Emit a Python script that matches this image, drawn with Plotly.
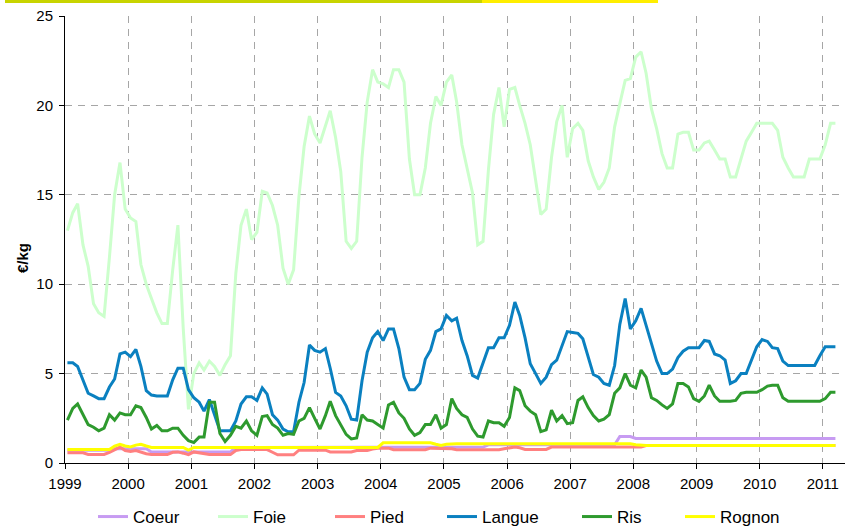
import plotly.graph_objects as go
import pandas as pd

# Monthly categories, Jan 1999 .. Mar 2011
months = [d.strftime("%Y-%m-15") for d in pd.date_range("1999-01-01", "2011-03-01", freq="MS")]

coeur = [
    0.72,0.72,0.72,0.72,0.72,0.72,0.72,0.72,0.72,0.80,0.82,0.80,
    0.80,0.80,0.80,0.80,0.62,0.62,0.62,0.62,0.62,0.62,0.62,0.62,
    0.62,0.62,0.62,0.62,0.62,0.62,0.62,0.62,0.86,0.86,0.86,0.86,
    0.86,0.86,0.86,0.86,0.86,0.86,0.86,0.86,0.86,0.86,0.86,0.86,
    0.86,0.86,0.86,0.86,0.86,0.86,0.86,0.86,0.86,0.86,0.86,0.86,
    0.89,0.89,0.89,0.89,0.89,0.89,0.89,0.89,0.89,0.89,0.89,0.89,
    0.89,0.89,0.89,0.89,0.89,0.89,0.89,0.89,1.02,1.02,1.02,1.02,
    1.02,1.02,1.02,1.02,1.02,1.02,1.02,1.02,1.02,1.02,1.02,1.02,
    1.02,1.02,1.02,1.02,1.02,1.02,1.02,1.02,1.02,1.48,1.48,1.48,
    1.37,1.37,1.37,1.37,1.37,1.37,1.37,1.37,1.37,1.37,1.37,1.37,
    1.37,1.37,1.37,1.37,1.37,1.37,1.37,1.37,1.37,1.37,1.37,1.37,
    1.37,1.37,1.37,1.37,1.37,1.37,1.37,1.37,1.37,1.37,1.37,1.37,
    1.37,1.37,1.37,
]

foie = [
    13.0,14.0,14.5,12.2,11.0,8.9,8.4,8.2,11.5,15.0,16.8,14.2,
    13.7,13.5,11.1,10.0,9.2,8.4,7.8,7.8,10.8,13.3,7.5,3.0,
    5.0,5.6,5.2,5.7,5.4,4.9,5.5,6.0,10.6,13.3,14.2,12.5,
    12.9,15.2,15.1,14.4,13.3,10.9,10.0,10.8,14.9,17.7,19.4,18.4,
    17.9,18.9,19.7,18.2,16.3,12.4,12.0,12.4,17.1,20.2,22.0,21.3,
    21.2,21.0,22.0,22.0,21.3,17.0,15.0,15.0,16.5,19.0,20.5,20.0,
    21.3,21.7,20.2,17.8,16.5,15.1,12.2,12.4,16.4,19.5,21.0,18.8,
    20.9,21.0,20.0,19.0,17.8,15.8,13.9,14.2,17.1,19.1,20.0,17.1,
    18.7,19.0,18.6,16.9,16.0,15.3,15.7,16.5,18.8,20.1,21.4,21.5,
    22.7,23.0,21.8,19.8,18.7,17.3,16.5,16.5,18.4,18.5,18.5,17.5,
    17.5,17.9,18.0,17.5,17.0,17.0,16.0,16.0,17.0,18.0,18.5,19.0,
    19.0,19.0,19.0,18.6,17.1,16.5,16.0,16.0,16.0,17.0,17.0,17.0,
    17.8,19.0,19.0,
]

pied = [
    0.57,0.57,0.57,0.57,0.48,0.48,0.48,0.48,0.60,0.75,0.89,0.70,
    0.64,0.70,0.60,0.52,0.47,0.47,0.47,0.47,0.60,0.62,0.55,0.47,
    0.62,0.57,0.53,0.47,0.47,0.47,0.47,0.47,0.70,0.75,0.75,0.75,
    0.75,0.75,0.75,0.60,0.46,0.46,0.46,0.46,0.72,0.72,0.72,0.72,
    0.72,0.72,0.62,0.62,0.62,0.62,0.62,0.70,0.70,0.70,0.78,0.83,
    0.83,0.83,0.74,0.74,0.74,0.74,0.74,0.74,0.74,0.83,0.83,0.83,
    0.80,0.80,0.74,0.74,0.74,0.74,0.74,0.74,0.74,0.74,0.74,0.80,
    0.85,0.89,0.85,0.76,0.76,0.76,0.76,0.76,0.89,0.89,0.89,0.89,
    0.89,0.89,0.89,0.89,0.89,0.89,0.89,0.89,0.89,0.89,0.89,0.89,
    0.89,0.90,0.98,0.98,0.98,0.98,0.98,0.98,0.98,0.98,0.98,0.98,
    0.98,0.98,0.98,0.98,0.98,0.98,0.98,0.98,0.98,0.98,0.98,0.98,
    0.98,0.98,0.98,0.98,0.98,0.98,0.98,0.98,0.98,0.98,0.98,0.98,
    0.98,0.98,0.98,
]

langue = [
    5.6,5.6,5.4,4.6,3.9,3.75,3.6,3.6,4.25,4.7,6.1,6.2,
    5.95,6.35,5.4,4.05,3.8,3.75,3.75,3.75,4.65,5.3,5.3,4.1,
    3.65,3.4,2.9,3.55,2.7,1.8,1.8,1.8,2.35,3.3,3.7,3.7,
    3.5,4.2,3.85,2.7,2.4,1.9,1.75,1.75,3.4,4.5,6.6,6.3,
    6.2,6.4,5.3,3.95,3.75,3.2,2.45,2.4,4.6,6.2,7.0,7.35,
    6.85,7.5,7.5,6.4,4.8,4.1,4.1,4.45,5.8,6.3,7.35,7.5,
    8.25,7.95,8.1,6.85,6.0,4.9,4.75,5.55,6.45,6.45,7.0,7.0,
    7.7,9.0,8.25,7.0,5.55,5.0,4.45,4.8,5.5,5.75,6.55,7.35,
    7.3,7.25,6.95,5.9,4.95,4.8,4.45,4.35,5.45,7.75,9.2,7.5,
    7.95,8.65,7.7,6.55,5.7,5.0,5.0,5.25,5.9,6.25,6.45,6.45,
    6.45,6.85,6.8,6.1,6.0,5.75,4.45,4.6,5.0,5.0,5.75,6.5,
    6.9,6.8,6.45,6.4,5.7,5.45,5.45,5.45,5.45,5.45,5.45,6.0,
    6.5,6.5,6.5,
]

ris = [
    2.4,3.05,3.3,2.7,2.15,2.0,1.8,1.95,2.7,2.4,2.8,2.7,
    2.7,3.2,3.1,2.55,1.9,2.1,1.8,1.8,1.95,1.95,1.55,1.25,
    1.15,1.45,1.45,3.4,3.4,1.65,1.2,1.55,2.05,1.95,2.35,1.8,
    1.55,2.6,2.65,2.15,1.95,1.55,1.65,1.6,2.35,2.5,3.1,2.5,
    1.9,2.65,3.45,2.65,2.15,1.6,1.35,1.4,2.7,2.4,2.35,2.15,
    1.95,3.25,3.4,2.8,2.5,1.9,1.55,1.7,2.15,2.15,2.7,1.95,
    2.15,3.6,3.05,2.7,2.55,1.9,1.5,1.45,2.35,2.25,2.25,2.05,
    2.55,4.2,4.05,3.2,2.9,2.7,1.75,1.85,2.95,2.35,2.65,2.2,
    2.25,3.5,3.7,3.1,2.65,2.35,2.45,2.7,3.9,4.2,5.0,4.35,
    4.2,5.2,4.8,3.65,3.5,3.25,3.05,3.3,4.45,4.45,4.25,3.6,
    3.45,3.75,4.35,3.75,3.45,3.45,3.45,3.5,3.9,3.95,3.95,3.95,
    4.1,4.3,4.35,4.35,3.65,3.45,3.45,3.45,3.45,3.45,3.45,3.45,
    3.6,3.95,3.95,
]

rognon = [
    0.75,0.75,0.75,0.75,0.75,0.75,0.75,0.75,0.75,0.95,1.05,0.95,
    0.90,1.00,1.05,0.95,0.87,0.87,0.87,0.87,0.87,0.87,0.87,0.72,
    0.87,0.87,0.87,0.87,0.87,0.87,0.87,0.87,0.87,0.87,0.87,0.87,
    0.87,0.87,0.87,0.87,0.87,0.87,0.87,0.87,0.87,0.87,0.87,0.87,
    0.87,0.87,0.87,0.87,0.87,0.87,0.87,0.87,0.87,0.87,0.87,0.87,
    1.13,1.13,1.13,1.13,1.13,1.13,1.13,1.13,1.13,1.13,1.05,0.98,
    1.05,1.08,1.08,1.08,1.08,1.08,1.08,1.08,1.08,1.08,1.08,1.08,
    1.08,1.08,1.08,1.08,1.08,1.08,1.08,1.08,1.08,1.08,1.08,1.08,
    1.08,1.08,1.08,1.08,1.08,1.08,1.08,1.08,1.08,1.08,1.08,1.08,
    1.02,0.98,0.98,0.98,0.98,0.98,0.98,0.98,0.98,0.98,0.98,0.98,
    0.98,0.98,0.98,0.98,0.98,0.98,0.98,0.98,0.98,0.98,0.98,0.98,
    0.98,0.98,0.98,0.98,0.98,0.98,0.98,0.98,0.98,0.98,0.98,0.98,
    0.98,0.98,0.98,
]

year_ticks = [f"{y}-01-01" for y in range(1999, 2012)]
year_labels = [str(y) for y in range(1999, 2012)]

series_names = ["Coeur", "Foie", "Pied", "Langue", "Ris", "Rognon"]
series_values = [coeur, foie, pied, langue, ris, rognon]
series_colors = ["#c79bf2", "#ccffcc", "#ff8080", "#0a80c0", "#2e9a2e", "#ffff00"]

W, H = 845, 530
L, R, T, B = 65, 0, 16, 67
pw = W - L - R
ph = H - T - B
font = "Liberation Sans, Arial, sans-serif"

# legend entry text start positions (px) in the reference
legend_text_px = [133, 253, 370, 482, 617, 720]

fig = go.Figure()
legend_layouts = {}
for i, (name, vals, col) in enumerate(zip(series_names, series_values, series_colors)):
    lg = "legend" if i == 0 else f"legend{i + 1}"
    fig.add_trace(go.Scatter(x=months, y=vals, name=name, mode="lines",
                             line=dict(color=col, width=3), legend=lg))
    legend_layouts[lg] = dict(
        orientation="h", x=(legend_text_px[i] - 40 - L) / pw, xanchor="left",
        y=(H - B - 499) / ph, yanchor="top",
        font=dict(size=17, family=font, color="black"),
        bgcolor="rgba(0,0,0,0)")

x_end = pd.Timestamp("1999-01-01") + pd.Timedelta(days=pw / 63.15 * 365.25)

fig.update_layout(
    width=W, height=H,
    margin=dict(l=L, r=R, t=T, b=B, autoexpand=False),
    paper_bgcolor="white", plot_bgcolor="white",
    font=dict(family=font, size=15, color="black"),
    showlegend=True,
    xaxis=dict(type="date", range=["1999-01-01", x_end.strftime("%Y-%m-%d %H:%M")],
               tickvals=year_ticks, ticktext=year_labels,
               showgrid=True, gridcolor="#a6a6a6", gridwidth=1, griddash="7px,6px",
               showline=True, linecolor="black", linewidth=1,
               ticks="outside", ticklen=5, tickcolor="black",
               tickfont=dict(size=15), zeroline=False, ticklabelstandoff=2),
    yaxis=dict(range=[0, 25], tickvals=[0, 5, 10, 15, 20, 25],
               showgrid=True, gridcolor="#a6a6a6", gridwidth=1, griddash="7px,6px",
               showline=True, linecolor="black", linewidth=1,
               ticks="outside", ticklen=5, tickcolor="black",
               tickfont=dict(size=15), zeroline=False, ticklabelstandoff=3),
    annotations=[dict(text="<b>€/kg</b>", textangle=-90, xref="paper", yref="paper",
                      x=(22 - L) / pw, y=(H - B - 258) / ph, xanchor="center", yanchor="middle",
                      showarrow=False, font=dict(size=15, family=font))],
    shapes=[
        dict(type="rect", xref="paper", yref="paper", layer="above",
             x0=(5 - L) / pw, x1=(482 - L) / pw, y0=(H - B - 3) / ph, y1=(H - B) / ph,
             fillcolor="#c8d400", line=dict(width=0)),
        dict(type="rect", xref="paper", yref="paper", layer="above",
             x0=(482 - L) / pw, x1=(658 - L) / pw, y0=(H - B - 3) / ph, y1=(H - B) / ph,
             fillcolor="#ffee00", line=dict(width=0)),
    ],
    **legend_layouts,
)

fig.write_html("out.html", config={"displayModeBar": False},
               post_script="document.body.style.margin='0px';document.body.style.overflow='hidden';")
